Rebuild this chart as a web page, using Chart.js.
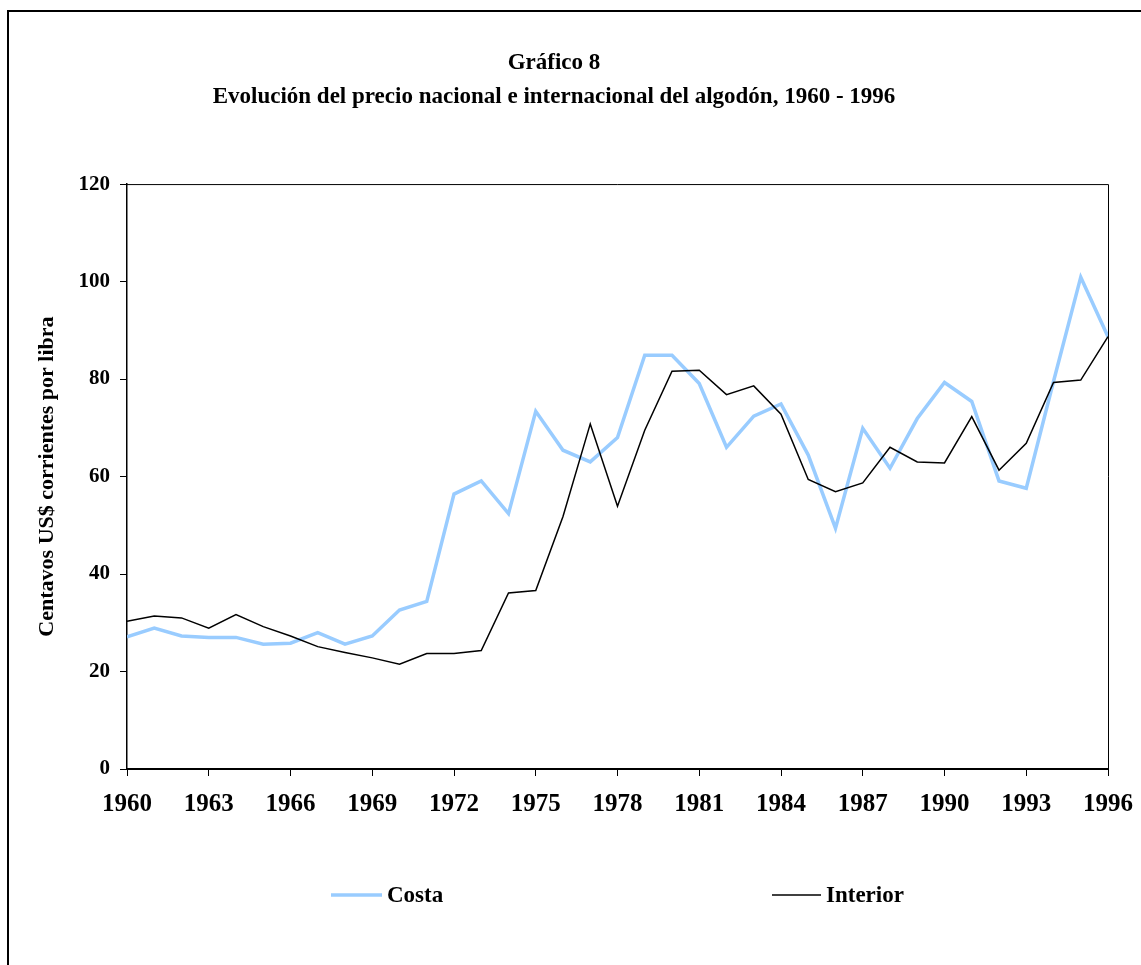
<!DOCTYPE html>
<html>
<head>
<meta charset="utf-8">
<script src="https://cdn.jsdelivr.net/npm/chart.js@4"></script>
<style>
  html, body { margin: 0; padding: 0; background: #fff; }
  #wrap { width: 1141px; height: 965px; position: relative; }
</style>
</head>
<body>
<div id="wrap"><canvas id="algodonChart" width="1141" height="965"></canvas></div>
<script>
// years 1960 - 1996
const years = [1960, 1961, 1962, 1963, 1964, 1965, 1966, 1967, 1968, 1969,
               1970, 1971, 1972, 1973, 1974, 1975, 1976, 1977, 1978, 1979,
               1980, 1981, 1982, 1983, 1984, 1985, 1986, 1987, 1988, 1989,
               1990, 1991, 1992, 1993, 1994, 1995, 1996];

const costa = [27.1, 28.9, 27.3, 27.0, 27.0, 25.6, 25.8, 28.0, 25.6, 27.3,
               32.6, 34.4, 56.4, 59.1, 52.4, 73.4, 65.4, 63.0, 68.0, 84.9,
               84.9, 79.1, 66.0, 72.4, 74.9, 64.4, 49.4, 69.9, 61.7, 71.9,
               79.3, 75.4, 59.1, 57.6, 79.5, 100.9, 88.7];

const interior = [30.3, 31.4, 31.0, 28.9, 31.7, 29.2, 27.3, 25.1, 23.9, 22.8,
                  21.5, 23.7, 23.7, 24.3, 36.1, 36.6, 51.8, 70.8, 53.9, 69.5,
                  81.6, 81.8, 76.8, 78.6, 72.8, 59.4, 56.9, 58.7, 66.0, 63.0,
                  62.8, 72.3, 61.3, 66.8, 79.3, 79.8, 88.7];

const seriesNames = ['Costa', 'Interior'];
const titleLines = ['Gráfico 8', 'Evolución del precio nacional e internacional del algodón, 1960 - 1996'];
const yAxisTitle = 'Centavos US$ corrientes por libra';

const FONT = "'Liberation Serif', 'Times New Roman', serif";

const toPoints = vals => years.map((yr, i) => ({ x: yr, y: vals[i] }));

// frame around the whole figure + box around the plot area + legend
const decorations = {
    id: 'decorations',
    beforeDraw(chart) {
        const ctx = chart.ctx;
        ctx.save();
        ctx.fillStyle = '#fff';
        ctx.fillRect(0, 0, chart.width, chart.height);
        ctx.strokeStyle = '#000';
        ctx.lineWidth = 2;
        ctx.strokeRect(8, 11, chart.width + 50, chart.height + 50);
        ctx.restore();
    },
    afterDatasetsDraw(chart) {
        const ctx = chart.ctx;
        const a = chart.chartArea;
        ctx.save();
        ctx.strokeStyle = '#000';
        ctx.lineWidth = 1;
        ctx.beginPath();
        ctx.moveTo(a.left, a.top + 0.5);
        ctx.lineTo(a.right + 0.5, a.top + 0.5);
        ctx.lineTo(a.right + 0.5, a.bottom);
        ctx.stroke();
        ctx.restore();
    },
    afterDraw(chart) {
        const ctx = chart.ctx;
        const legendPos = [{ x: 331, len: 51 }, { x: 772, len: 49 }];
        const y = 895;
        ctx.save();
        ctx.font = 'bold 23px ' + FONT;
        ctx.textBaseline = 'middle';
        ctx.fillStyle = '#000';
        seriesNames.forEach((name, i) => {
            const ds = chart.data.datasets.find(d => d.label === name);
            const p = legendPos[i];
            ctx.strokeStyle = ds.borderColor;
            ctx.lineWidth = ds.borderWidth;
            ctx.beginPath();
            ctx.moveTo(p.x, y);
            ctx.lineTo(p.x + p.len, y);
            ctx.stroke();
            ctx.fillText(name, p.x + p.len + 5, y + 1);
        });
        ctx.restore();
    }
};

const ctx = document.getElementById('algodonChart').getContext('2d');
new Chart(ctx, {
    type: 'line',
    data: {
        datasets: [
            {
                label: seriesNames[0],
                data: toPoints(costa),
                borderColor: '#99CCFF',
                borderWidth: 3.5,
                pointRadius: 0,
                tension: 0,
                order: 1
            },
            {
                label: seriesNames[1],
                data: toPoints(interior),
                borderColor: '#000000',
                borderWidth: 1.5,
                pointRadius: 0,
                tension: 0,
                order: 0
            }
        ]
    },
    options: {
        responsive: false,
        animation: false,
        layout: { padding: { left: 0, right: 33, top: 0, bottom: 150 } },
        plugins: {
            legend: { display: false },
            tooltip: { enabled: false },
            title: {
                display: true,
                text: titleLines,
                color: '#000',
                font: { family: FONT, size: 23, weight: 'bold', lineHeight: 1.48 },
                padding: { top: 46, bottom: 70 }
            }
        },
        scales: {
            x: {
                type: 'linear',
                min: 1960,
                max: 1996,
                border: { color: '#000', width: 2 },
                grid: { drawOnChartArea: false, drawTicks: true, tickLength: 7, color: '#000', tickWidth: 1 },
                ticks: {
                    stepSize: 3,
                    color: '#000',
                    padding: 14,
                    maxRotation: 0,
                    autoSkip: false,
                    font: { family: FONT, size: 25, weight: 'bold' },
                    callback: v => String(v)
                },
                afterFit: s => { s.height = 46; s.paddingLeft = 0; s.paddingRight = 0; }
            },
            y: {
                min: 0,
                max: 120,
                border: { color: '#000', width: 1.5 },
                grid: { drawOnChartArea: false, drawTicks: true, tickLength: 7, color: '#000', tickWidth: 1 },
                ticks: {
                    stepSize: 20,
                    color: '#000',
                    padding: 10,
                    font: { family: FONT, size: 21, weight: 'bold' }
                },
                title: {
                    display: true,
                    text: yAxisTitle,
                    color: '#000',
                    font: { family: FONT, size: 22, weight: 'bold' },
                    padding: { top: 34, bottom: 0 }
                },
                afterFit: s => { s.width = 127; }
            }
        }
    },
    plugins: [decorations]
});
</script>
</body>
</html>
